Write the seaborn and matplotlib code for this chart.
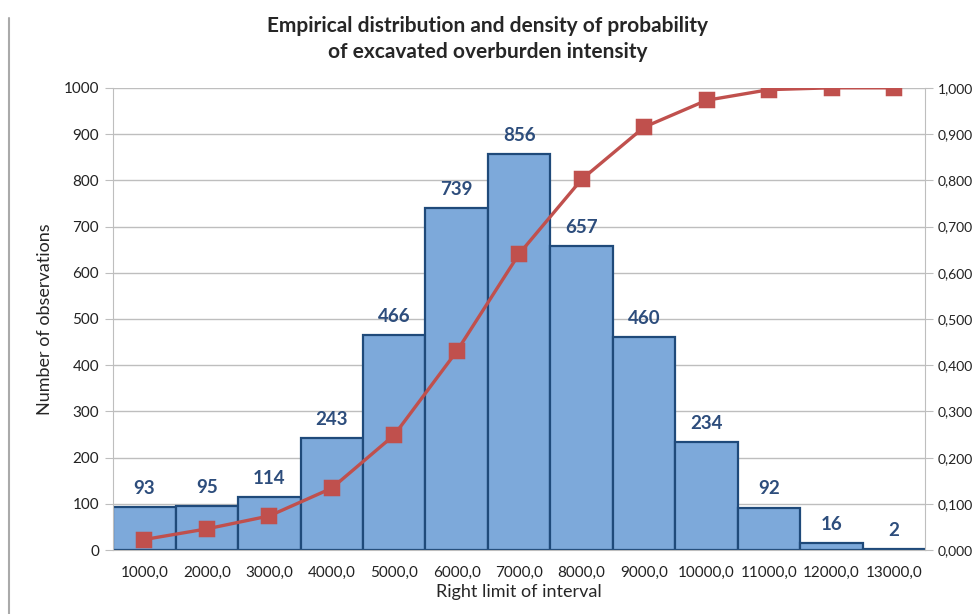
import matplotlib
matplotlib.use("Agg")
import matplotlib.pyplot as plt
import seaborn as sns
from matplotlib.ticker import FixedLocator, FuncFormatter
from matplotlib.lines import Line2D

# data
limits = ['1000,0', '2000,0', '3000,0', '4000,0', '5000,0', '6000,0', '7000,0',
          '8000,0', '9000,0', '10000,0', '11000,0', '12000,0', '13000,0']
counts = [93, 95, 114, 243, 466, 739, 856, 657, 460, 234, 92, 16, 2]
cum_prob = [0.023, 0.046, 0.074, 0.134, 0.249, 0.430, 0.641,
            0.802, 0.915, 0.973, 0.996, 1.000, 1.000]

sns.set_style("white")
plt.rcParams['font.family'] = ['Lato', 'DejaVu Sans']

bar_face = '#7DA9DA'
bar_edge = '#1F4A7A'
label_col = '#2D4D7C'
line_col = '#C0504D'
grid_col = '#BEBEBE'

fig = plt.figure(figsize=(9.75, 6.14), dpi=100)
ax = fig.add_axes([0.116, 0.104, 0.833, 0.753])

sns.barplot(x=limits, y=counts, ax=ax, color=bar_face, width=1.0,
            edgecolor=bar_edge, linewidth=1.6, saturation=1, zorder=2)

ax.set_ylim(0, 1000)
ax.set_xlim(-0.5, len(limits) - 0.5)
ax.set_yticks(range(0, 1001, 100))
ax.yaxis.grid(True, color=grid_col, linewidth=1)
ax.set_axisbelow(True)

for i, v in enumerate(counts):
    ax.text(i, v + 22, str(v), ha='center', va='bottom', fontsize=13.5,
            fontweight='bold', color=label_col)

ax.set_xticks(range(len(limits)))
ax.set_xticklabels(limits)
ax.xaxis.set_minor_locator(FixedLocator([i + 0.5 for i in range(-1, len(limits))]))
ax.tick_params(axis='x', which='major', length=0, pad=11, labelsize=11,
               labelcolor='#222222')
ax.tick_params(axis='x', which='minor', length=6, color=grid_col, direction='out')
ax.tick_params(axis='y', length=6, color=grid_col, labelsize=11, pad=4,
               labelcolor='#222222')

for s in ['top', 'right']:
    ax.spines[s].set_visible(False)
for s in ['left', 'bottom']:
    ax.spines[s].set_color(grid_col)

ax.set_xlabel('Right limit of interval', fontsize=13, labelpad=3)
ax.set_ylabel('Number of observations', fontsize=13, labelpad=8)

ax2 = ax.twinx()
sns.pointplot(x=limits, y=cum_prob, ax=ax2, color=line_col, markers='s',
              linestyles='-', markersize=9.5, linewidth=2.4, zorder=3)
ax2.set_ylim(0, 1.0)
ax2.set_xlim(-0.5, len(limits) - 0.5)
ax2.set_yticks([i / 10 for i in range(11)])
ax2.yaxis.set_major_formatter(FuncFormatter(lambda v, p: f'{v:.3f}'.replace('.', ',')))
ax2.tick_params(axis='y', length=6, color=grid_col, labelsize=10, pad=3,
                labelcolor='#222222')
ax2.set_ylabel('')
for s in ['top', 'left', 'bottom']:
    ax2.spines[s].set_visible(False)
ax2.spines['right'].set_color(grid_col)

fig.text(0.5, 0.958, 'Empirical distribution and density of probability',
         ha='center', va='center', fontsize=15, fontweight='bold')
fig.text(0.5, 0.915, 'of excavated overburden intensity',
         ha='center', va='center', fontsize=15, fontweight='bold')

fig.add_artist(Line2D([0.009, 0.009], [0.0, 0.97], color='#AAAAAA', linewidth=1.5))

fig.savefig('out.png', dpi=100)
